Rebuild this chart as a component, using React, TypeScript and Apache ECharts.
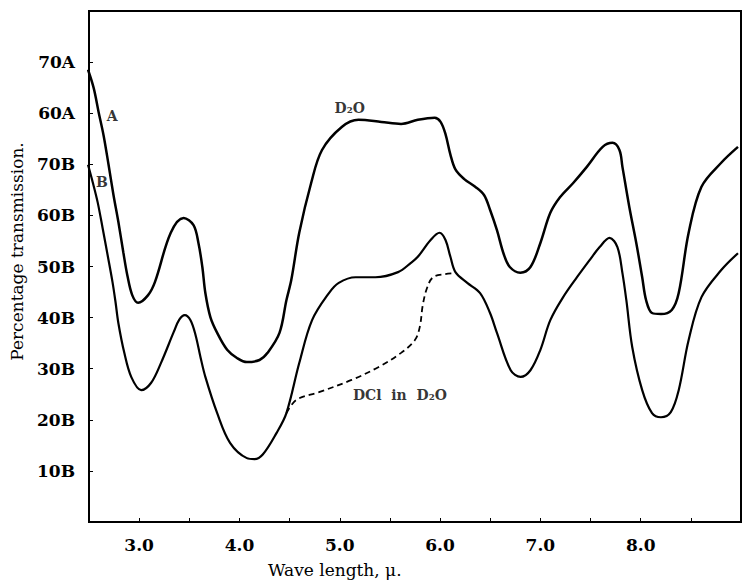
import React, { useEffect, useRef } from "react";
import * as echarts from "echarts";

// Curve A (upper, D2O) — wavelength (μ) and transmission in "A" percent units
const A_WAVE = [2.49, 2.547, 2.596, 2.645, 2.695, 2.744, 2.793, 2.842, 2.882, 2.931, 2.99, 3.089, 3.158, 3.315, 3.443, 3.542, 3.591, 3.63, 3.66, 3.71, 3.778, 3.877, 3.975, 4.074, 4.2, 4.28, 4.399, 4.468, 4.517, 4.596, 4.714, 4.823, 5.02, 5.187, 5.414, 5.611, 5.778, 5.946, 6.005, 6.054, 6.103, 6.153, 6.241, 6.35, 6.438, 6.498, 6.567, 6.635, 6.695, 6.8, 6.901, 7.0, 7.099, 7.197, 7.325, 7.463, 7.621, 7.719, 7.788, 7.818, 7.887, 7.956, 8.015, 8.054, 8.113, 8.202, 8.31, 8.379, 8.478, 8.606, 8.803, 8.97];
const A_VALUES = [68.5, 64.9, 60.2, 55.7, 49.9, 44.0, 38.7, 32.8, 28.3, 24.4, 22.9, 24.4, 27.0, 36.6, 39.5, 38.1, 34.6, 29.9, 24.8, 20.1, 17.0, 13.7, 12.1, 11.3, 11.7, 13.1, 17.0, 23.4, 27.4, 36.6, 46.3, 52.8, 57.3, 58.7, 58.3, 57.9, 58.7, 59.1, 58.3, 55.9, 51.9, 49.0, 47.1, 45.6, 44.0, 41.1, 37.1, 32.4, 29.9, 28.8, 29.9, 34.6, 40.5, 43.6, 46.3, 49.5, 53.4, 54.2, 52.8, 49.5, 41.6, 34.6, 27.9, 23.4, 20.9, 20.7, 21.5, 24.8, 36.6, 45.6, 50.3, 53.4];
const A_OFFSET = 20; // 70A sits where 90B would be

// Curve B (lower) — transmission in "B" percent units
const B_WAVE = [2.49, 2.537, 2.586, 2.636, 2.685, 2.734, 2.764, 2.793, 2.852, 2.921, 3.02, 3.118, 3.217, 3.345, 3.4, 3.455, 3.512, 3.562, 3.611, 3.66, 3.778, 3.906, 4.074, 4.15, 4.232, 4.369, 4.468, 4.596, 4.724, 4.892, 4.99, 5.158, 5.355, 5.581, 5.709, 5.778, 5.906, 5.995, 6.054, 6.103, 6.153, 6.271, 6.399, 6.498, 6.567, 6.704, 6.803, 6.901, 7.0, 7.099, 7.227, 7.365, 7.493, 7.591, 7.69, 7.768, 7.818, 7.857, 7.916, 8.015, 8.113, 8.202, 8.3, 8.379, 8.478, 8.606, 8.803, 8.97];
const B_VALUES = [69.9, 66.5, 62.6, 57.5, 52.3, 47.0, 43.1, 38.9, 33.1, 28.4, 25.8, 27.2, 31.1, 37.2, 39.6, 40.5, 39.5, 36.6, 32.3, 28.4, 21.3, 15.5, 12.5, 12.3, 13.2, 17.4, 21.3, 31.1, 39.5, 44.8, 46.8, 47.9, 47.9, 48.9, 50.7, 51.9, 55.2, 56.6, 55.2, 51.9, 48.9, 46.8, 44.8, 40.9, 37.0, 29.7, 28.4, 29.7, 33.7, 39.5, 44.0, 47.9, 51.3, 53.8, 55.6, 53.8, 48.7, 43.4, 34.2, 25.8, 21.3, 20.5, 21.5, 25.8, 35.6, 44.0, 49.3, 52.6];

// DCl in D2O (dashed) — B units
const DCL_WAVE = [4.468, 4.567, 4.793, 5.118, 5.384, 5.611, 5.749, 5.798, 5.828, 5.87, 5.93, 6.044, 6.153];
const DCL_VALUES = [21.3, 23.9, 25.4, 27.8, 30.3, 33.1, 35.6, 38.2, 42.5, 45.8, 47.9, 48.5, 48.7];

// Tick labels
const X_LABELS = ["3.0", "4.0", "5.0", "6.0", "7.0", "8.0"];
const Y_LABELS: Record<number, string> = { 10: "10B", 20: "20B", 30: "30B", 40: "40B", 50: "50B", 60: "60B", 70: "70B", 80: "60A", 90: "70A" };

// Annotations: [wavelength, B-unit position, text]
const NOTE_WAVE = [2.73, 2.63, 5.1, 5.6];
const NOTE_VALUES = [79.4, 66.5, 81.0, 24.9];
const NOTE_TEXTS = ["A", "B", "D\u2082O", "DCl  in  D\u2082O"];

const FONT = "DejaVu Serif";

export default function App() {
  const ref = useRef<HTMLDivElement>(null);
  useEffect(() => {
    if (!ref.current) return;
    const chart = echarts.init(ref.current, undefined, { renderer: "svg" });
    const pairs = (xs: number[], ys: number[], off = 0) => xs.map((x, i) => [x, ys[i] + off]);
    chart.setOption({
      animation: false,
      backgroundColor: "#ffffff",
      grid: { left: 86, top: 11, right: -3, bottom: 59, show: true, borderColor: "#000", borderWidth: 2 },
      xAxis: {
        type: "value",
        min: 2.5,
        max: 9.0,
        interval: 0.5,
        axisLine: { show: true, lineStyle: { color: "#000", width: 2 } },
        axisTick: { show: true, inside: true, length: 4, lineStyle: { color: "#000", width: 1 } },
        splitLine: { show: false },
        axisLabel: {
          margin: 14,
          color: "#000",
          fontFamily: FONT,
          fontSize: 17,
          fontWeight: "bold",
          formatter: (v: number) => {
            const s = v.toFixed(1);
            return X_LABELS.includes(s) ? s : "";
          },
        },
      },
      yAxis: {
        type: "value",
        min: 0,
        max: 100,
        interval: 10,
        axisLine: { show: true, lineStyle: { color: "#000", width: 2 } },
        axisTick: { show: true, inside: true, length: 4, lineStyle: { color: "#000", width: 1 } },
        splitLine: { show: false },
        name: "Percentage transmission.",
        nameLocation: "middle",
        nameRotate: 90,
        nameGap: 64,
        nameTextStyle: { color: "#000", fontFamily: FONT, fontSize: 17, padding: [0, 0, 0, 30] },
        axisLabel: {
          margin: 14,
          color: "#000",
          fontFamily: FONT,
          fontSize: 17,
          fontWeight: "bold",
          formatter: (v: number) => Y_LABELS[Math.round(v)] || "",
        },
      },
      graphic: [
        {
          type: "text",
          left: 268,
          top: 561,
          style: { text: "Wave length, \u03bc.", fill: "#000", font: `17px "${FONT}"` },
        },
      ],
      series: [
        {
          type: "line",
          data: pairs(A_WAVE, A_VALUES, A_OFFSET),
          smooth: 0.35,
          showSymbol: false,
          symbol: "none",
          lineStyle: { color: "#000", width: 2.5 },
        },
        {
          type: "line",
          data: pairs(B_WAVE, B_VALUES),
          smooth: 0.35,
          showSymbol: false,
          symbol: "none",
          lineStyle: { color: "#000", width: 2.2 },
        },
        {
          type: "line",
          data: pairs(DCL_WAVE, DCL_VALUES),
          smooth: 0.35,
          showSymbol: false,
          symbol: "none",
          lineStyle: { color: "#000", width: 1.8, type: [6, 4] },
        },
        {
          type: "scatter",
          symbolSize: 0,
          data: NOTE_WAVE.map((x, i) => ({ value: [x, NOTE_VALUES[i]], name: NOTE_TEXTS[i] })),
          label: {
            show: true,
            position: "inside",
            formatter: (p: any) => p.name,
            color: "#000",
            fontFamily: FONT,
            fontSize: 14,
            fontWeight: "bold",
          },
        },
      ],
    });
    return () => chart.dispose();
  }, []);
  return <div ref={ref} style={{ position: "fixed", left: 0, top: 0, width: 744, height: 581 }} />;
}
